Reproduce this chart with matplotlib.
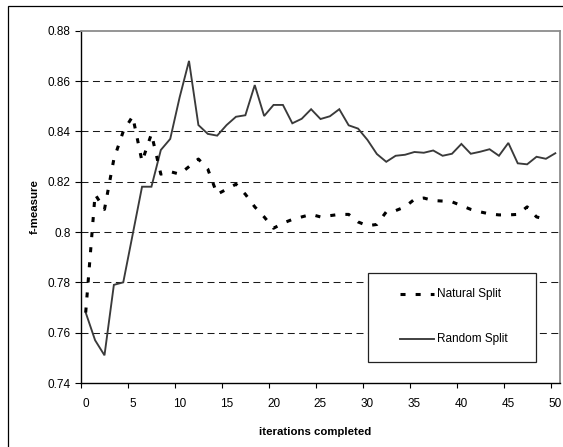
import matplotlib
matplotlib.use("Agg")
import matplotlib.pyplot as plt
import numpy as np
from matplotlib.patches import Rectangle
from matplotlib.lines import Line2D

# ---- data ----
iterations = list(range(0, 51))
natural_split = [0.768, 0.815, 0.809, 0.829, 0.840, 0.846, 0.828, 0.839, 0.823, 0.824,
                 0.823, 0.826, 0.829, 0.825, 0.815, 0.817, 0.819, 0.815, 0.810, 0.806,
                 0.8015, 0.8035, 0.805, 0.806, 0.807, 0.806, 0.8065, 0.807, 0.807, 0.804,
                 0.8025, 0.803, 0.808, 0.8085, 0.810, 0.813, 0.8135, 0.8125, 0.8123, 0.812,
                 0.8105, 0.809, 0.808, 0.8072, 0.8068, 0.8068, 0.807, 0.810, 0.806, 0.805]
random_split = [0.768, 0.757, 0.751, 0.779, 0.780, 0.799, 0.818, 0.818, 0.8326, 0.837,
                0.8535, 0.868, 0.8425, 0.839, 0.8383, 0.8425, 0.8458, 0.8464, 0.8584, 0.8461,
                0.8505, 0.8505, 0.8432, 0.845, 0.8488, 0.8449, 0.846, 0.8488, 0.8424, 0.8411,
                0.8366, 0.831, 0.8279, 0.8303, 0.8307, 0.8318, 0.8315, 0.8324, 0.8303, 0.8311,
                0.835, 0.8311, 0.8319, 0.8329, 0.8303, 0.8354, 0.8273, 0.8269, 0.8299, 0.8291,
                0.8313]
x_tick_labels = ["0", "5", "10", "15", "20", "25", "30", "35", "40", "45", "50"]
y_ticks = [0.74, 0.76, 0.78, 0.80, 0.82, 0.84, 0.86, 0.88]
y_tick_labels = ["0.74", "0.76", "0.78", "0.8", "0.82", "0.84", "0.86", "0.88"]
series_labels = ["Natural Split", "Random Split"]

plt.rcParams['font.family'] = ['Liberation Sans', 'DejaVu Sans']

W, H = 563, 447
fig = plt.figure(figsize=(W / 100, H / 100), dpi=100)
L, R, T, B = 81, 560, 30.7, 383
ax = fig.add_axes([L / W, 1 - B / H, (R - L) / W, (B - T) / H])

n_cat = len(iterations)
# category axis: points at the centre of each category slot
x_nat = np.arange(len(natural_split)) + 0.5
x_rnd = np.arange(len(random_split)) + 0.5

grid_color = '#1a1a1a'
for yv in y_ticks[1:-1]:
    ax.axhline(yv, color=grid_color, lw=0.75, linestyle=(0, (6.7, 4.3)), zorder=1)

ax.plot(x_rnd, random_split, color='#3a3a3a', lw=1.35, zorder=3,
        solid_joinstyle='miter')
ax.plot(x_nat, natural_split, color='black', lw=2.2, zorder=4,
        linestyle=(0, (1.65, 3.3)), dash_capstyle='butt')

ax.set_xlim(0, n_cat)
ax.set_ylim(0.74, 0.88)

# major ticks at category boundaries, labels centred in categories
major_pos = [int(s) for s in x_tick_labels]
ax.set_xticks(major_pos)
ax.set_xticklabels([])
ax.set_xticks([p + 0.5 for p in major_pos], minor=True)
ax.set_xticklabels(x_tick_labels, minor=True)
ax.tick_params(axis='x', which='major', direction='out', length=3.5, width=0.8, color='black')
ax.tick_params(axis='x', which='minor', length=0, pad=10.5, labelsize=8.5)

ax.set_yticks(y_ticks)
ax.set_yticklabels(y_tick_labels)
ax.tick_params(axis='y', direction='out', length=4, width=0.8, pad=3.5, labelsize=8.5)

for s in ['left', 'bottom']:
    ax.spines[s].set_color('black')
    ax.spines[s].set_linewidth(1.0)
for s in ['top', 'right']:
    ax.spines[s].set_color('#8c8c8c')
    ax.spines[s].set_linewidth(1.3)

fig.text(315 / W, 1 - 432 / H, 'iterations completed', ha='center', va='center',
         fontsize=8.2, fontweight='bold')
fig.text(35 / W, 1 - 207 / H, 'f-measure', ha='center', va='center',
         fontsize=8.2, fontweight='bold', rotation=90)

# outer chart border
fig.patches.append(Rectangle((8 / W, -0.2), 1.5, 1.2 - 6 / H, transform=fig.transFigure,
                             fill=False, edgecolor='black', lw=0.9))

# legend box
lx0, lx1, ly0, ly1 = 368, 536, 272.7, 361.7
fig.patches.append(Rectangle((lx0 / W, 1 - ly1 / H), (lx1 - lx0) / W, (ly1 - ly0) / H,
                             transform=fig.transFigure, facecolor='white',
                             edgecolor='#222222', lw=0.9, zorder=5))
for yy, lab, style in [(294.3, series_labels[0], 'nat'), (339, series_labels[1], 'rnd')]:
    if style == 'nat':
        ln = Line2D([400 / W, 434 / W], [1 - yy / H, 1 - yy / H], transform=fig.transFigure,
                    color='black', lw=2.2, linestyle=(0, (1.65, 3.3)), dash_capstyle='butt',
                    zorder=6)
    else:
        ln = Line2D([400 / W, 434 / W], [1 - yy / H, 1 - yy / H], transform=fig.transFigure,
                    color='#3a3a3a', lw=1.35, zorder=6)
    fig.lines.append(ln)
    fig.text(437 / W, 1 - yy / H, lab, ha='left', va='center', fontsize=8.5, zorder=7)

fig.savefig('out.png', dpi=100)
